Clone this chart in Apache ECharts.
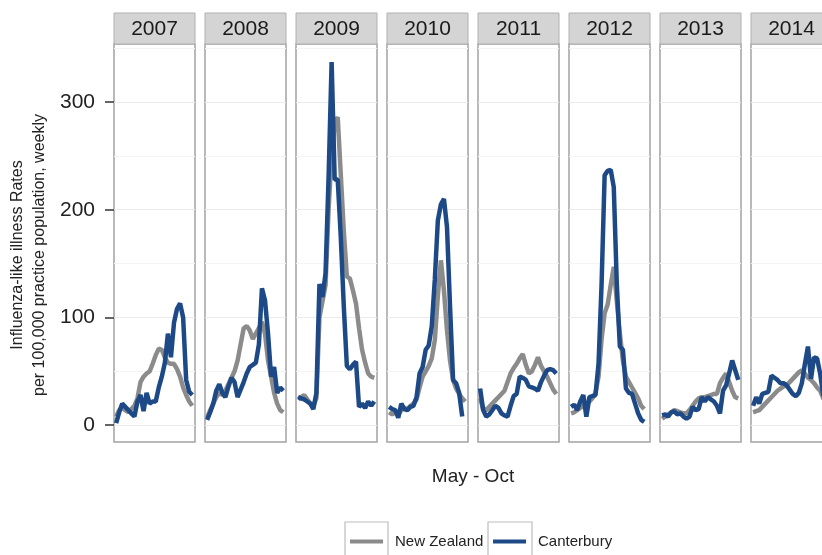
<!DOCTYPE html>
<html>
<head>
<meta charset="utf-8">
<script src="https://cdn.jsdelivr.net/npm/echarts@6/dist/echarts.min.js"></script>
<style>
html,body{margin:0;padding:0;overflow:hidden;background:#fff;}
#c{width:850px;height:555px;}
</style>
</head>
<body>
<div id="c"></div>
<script>
// ---- data ----
const years = ['2007','2008','2009','2010','2011','2012','2013','2014'];
const weeks = [18,19,20,21,22,23,24,25,26,27,28,29,30,31,32,33,34,35,36,37,38,39,40,41,42,43];
const yTicks = [0,100,200,300];
const gridLevels = [0,50,100,150,200,250,300,350];
const seriesNames = ['New Zealand','Canterbury'];

const nz2007 = [8,14,16,14,12,15,18,25,40,45,48,50,57,65,71,70,63,58,57,57,52,45,35,28,22,18];
const cant2007 = [2,12,20,17,14,11,8,22,28,13,30,20,22,22,35,45,58,85,63,95,108,113,100,42,31,28];
const nz2008 = [7,14,20,26,30,28,32,38,44,50,60,75,90,92,88,80,85,90,96,85,60,45,30,20,14,12];
const cant2008 = [5,12,20,32,38,30,26,36,44,40,26,33,40,48,54,56,58,75,127,116,85,45,54,30,35,32];
const nz2009 = [24,26,28,24,20,18,25,100,115,130,200,250,280,286,233,180,138,136,125,113,90,70,58,48,45,44];
const cant2009 = [26,25,24,22,20,15,30,131,119,141,230,337,228,228,175,110,55,52,56,59,17,20,16,22,18,22];
const nz2010 = [12,10,12,10,14,16,15,18,20,24,35,45,50,55,62,79,120,153,125,88,60,42,34,29,25,22];
const cant2010 = [17,15,14,7,20,15,14,17,18,26,48,54,70,74,92,135,190,205,210,184,110,42,39,30,8,null];
const nz2011 = [25,15,14,17,20,23,26,29,32,40,48,53,57,62,66,56,48,50,56,63,55,50,45,39,33,29];
const cant2011 = [34,14,8,10,14,18,16,11,9,8,18,27,29,45,44,42,36,35,34,32,40,46,51,52,51,48];
const nz2012 = [11,12,14,16,18,20,22,25,30,45,80,104,112,130,147,115,85,60,45,40,35,30,25,18,15,null];
const cant2012 = [17,19,14,22,28,8,26,27,28,57,131,232,236,237,221,131,73,70,34,30,29,20,11,5,3,null];
const nz2013 = [6,8,10,12,14,13,12,11,11,14,18,22,25,26,26,27,28,29,29,39,44,48,40,32,26,25];
const cant2013 = [9,10,8,12,13,10,11,8,6,8,17,14,15,26,22,26,24,22,18,11,32,37,48,60,51,42];
const nz2014 = [12,13,14,17,20,23,26,29,32,34,36,37,40,43,46,49,51,48,44,42,39,35,32,25,22,20];
const cant2014 = [18,26,20,29,30,31,46,44,42,39,39,37,33,29,27,30,39,57,73,43,63,62,48,28,25,24];

const nzByYear = [nz2007,nz2008,nz2009,nz2010,nz2011,nz2012,nz2013,nz2014];
const cantByYear = [cant2007,cant2008,cant2009,cant2010,cant2011,cant2012,cant2013,cant2014];

// ---- layout / style ----
const FONT = 'Liberation Sans, Arial, sans-serif';
const GREY = '#8b8b8b';
const BLUE = '#1d4a87';
const PANEL_LEFT = 114, STEP = 91, PANEL_W = 81, PANEL_TOP = 44, PANEL_H = 398;
const STRIP_TOP = 13;

const grids = [], xAxes = [], yAxes = [], series = [], graphics = [];

years.forEach((yr, k) => {
  const left = PANEL_LEFT + STEP * k;
  grids.push({left: left, top: PANEL_TOP, width: PANEL_W, height: PANEL_H,
    show: true, borderColor: '#a3a3a3', borderWidth: 1.5, backgroundColor: '#fff'});
  xAxes.push({type: 'value', gridIndex: k, min: 17.3, max: 43.9, show: false});
  yAxes.push({type: 'value', gridIndex: k, min: -15.6, max: 353.8,
    axisLine: {show: false},
    splitLine: {show: false},
    axisTick: {show: k === 0, customValues: yTicks, length: 9, lineStyle: {color: '#333', width: 1.5}},
    axisLabel: {show: k === 0, customValues: yTicks, margin: 19, fontSize: 21, color: '#222', fontFamily: FONT}
  });
  series.push({
    name: seriesNames[0], type: 'line', xAxisIndex: k, yAxisIndex: k,
    data: weeks.map((w, i) => [w, nzByYear[k][i]]),
    symbol: 'none', showSymbol: false, connectNulls: false,
    lineStyle: {color: GREY, width: 4.5}, itemStyle: {color: GREY},
    z: 3, animation: false, silent: true,
    markLine: {silent: true, symbol: 'none', z: 1, animation: false, label: {show: false},
      emphasis: {disabled: true},
      data: gridLevels.map(v => ({yAxis: v, lineStyle: {color: v % 100 === 0 ? '#ebebeb' : '#f4f4f4', width: 1, type: 'solid'}}))}
  });
  series.push({
    name: seriesNames[1], type: 'line', xAxisIndex: k, yAxisIndex: k,
    data: weeks.map((w, i) => [w, cantByYear[k][i]]),
    symbol: 'none', showSymbol: false, connectNulls: false,
    lineStyle: {color: BLUE, width: 4.5}, itemStyle: {color: BLUE},
    z: 4, animation: false, silent: true
  });
  graphics.push({type: 'rect', shape: {x: left, y: STRIP_TOP, width: PANEL_W, height: PANEL_TOP - STRIP_TOP},
    style: {fill: '#d4d4d4', stroke: '#b0b0b0', lineWidth: 1}, silent: true});
  graphics.push({type: 'text', x: left + PANEL_W / 2, y: STRIP_TOP + (PANEL_TOP - STRIP_TOP) / 2 + 1,
    style: {text: yr, fontSize: 21, fontFamily: FONT, fill: '#1a1a1a', textAlign: 'center', textVerticalAlign: 'middle'}, silent: true});
});

// axis titles
graphics.push({type: 'text', x: 29, y: 255, rotation: Math.PI / 2,
  style: {text: 'Influenza-like illness Rates\nper 100,000 practice population, weekly', fontSize: 16, lineHeight: 22,
    fontFamily: FONT, fill: '#222', textAlign: 'center', textVerticalAlign: 'middle'}, silent: true});
graphics.push({type: 'text', x: 473, y: 477,
  style: {text: 'May - Oct', fontSize: 19, fontFamily: FONT, fill: '#222', textAlign: 'center', textVerticalAlign: 'middle'}, silent: true});
// legend key boxes
graphics.push({type: 'rect', shape: {x: 345, y: 522, width: 43, height: 45}, style: {fill: 'none', stroke: '#bdbdbd', lineWidth: 1.2}, silent: true});
graphics.push({type: 'rect', shape: {x: 488, y: 522, width: 44, height: 45}, style: {fill: 'none', stroke: '#bdbdbd', lineWidth: 1.2}, silent: true});

const legendCommon = {orient: 'horizontal', icon: 'rect', itemWidth: 33, itemHeight: 4, selectedMode: false, top: 534, padding: 0,
  textStyle: {fontSize: 15, color: '#222', fontFamily: FONT, padding: [0, 0, 0, 7]}};

const chart = echarts.init(document.getElementById('c'), null, {renderer: 'canvas'});
chart.setOption({
  animation: false,
  backgroundColor: '#fff',
  textStyle: {fontFamily: FONT},
  grid: grids,
  xAxis: xAxes,
  yAxis: yAxes,
  series: series,
  legend: [
    Object.assign({}, legendCommon, {data: [seriesNames[0]], left: 350}),
    Object.assign({}, legendCommon, {data: [seriesNames[1]], left: 493})
  ],
  graphic: graphics
});
</script>
</body>
</html>
